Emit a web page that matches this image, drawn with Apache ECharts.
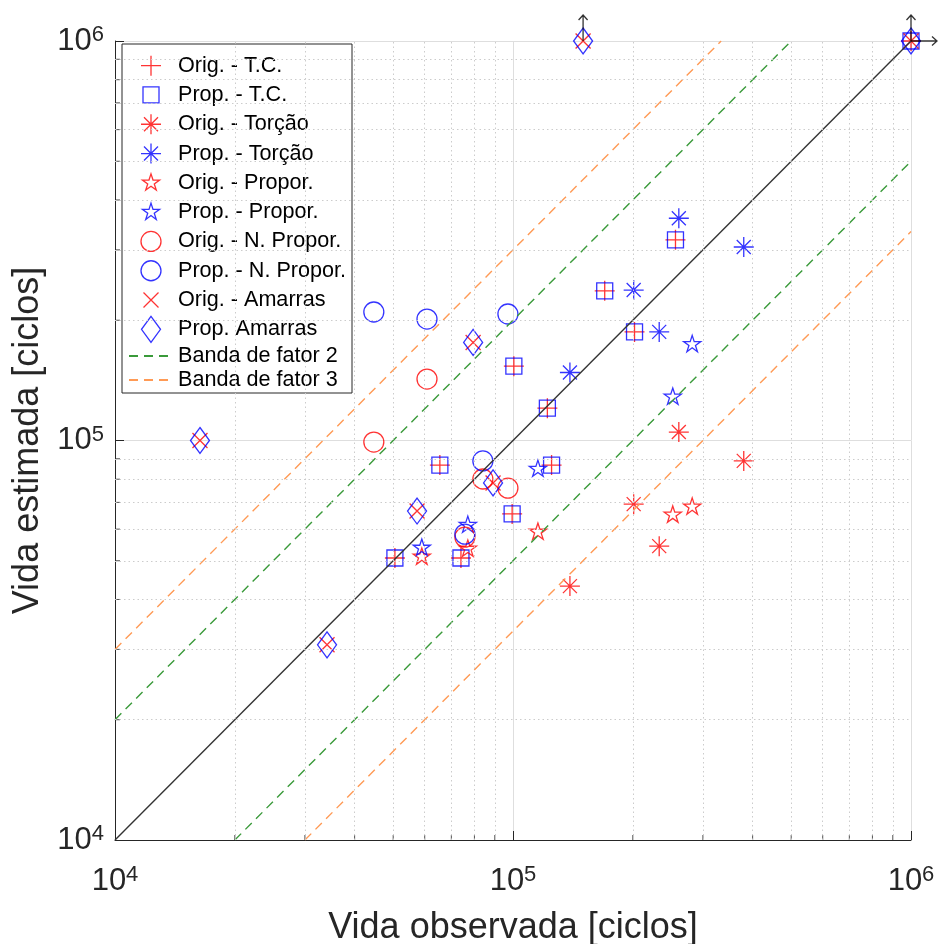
<!DOCTYPE html>
<html>
<head>
<meta charset="utf-8">
<script src="https://cdn.jsdelivr.net/npm/echarts@6/dist/echarts.min.js"></script>
<style>
  html, body { margin: 0; padding: 0; background: #ffffff; }
  #chart { width: 940px; height: 944px; }
</style>
</head>
<body>
<div id="chart"></div>
<script>
// Observed vs. estimated fatigue life [cycles], original and proposed models

// Tração-compressão (T.C.)
const tcObs      = [50500, 74000, 65500, 122000, 125000, 100500, 99500, 170000, 202000, 256000, 1000000];
const tcEstOrig  = [50800, 50800, 86800, 120500, 86800, 153500, 65500, 237000, 187000, 318000, 1000000];
const tcEstProp  = [50800, 50800, 86800, 120500, 86800, 153500, 65500, 237000, 187000, 318000, 1000000];

// Torção
const torObs     = [139000, 201000, 233000, 261000, 380000];
const torEstOrig = [43200, 69300, 54400, 105000, 88900];
const torEstProp = [148000, 238000, 187000, 360000, 305000];

// Proporcional
const propObs     = [59000, 77000, 115500, 252000, 282000];
const propEstOrig = [51100, 53500, 59000, 65100, 68200];
const propEstProp = [53800, 61400, 84800, 128500, 174000];

// Não proporcional
const npObs     = [44700, 60800, 97100, 84000, 75700];
const npEstOrig = [99100, 142500, 76000, 80100, 57300];
const npEstProp = [209700, 201400, 207300, 88900, 58300];

// Amarras
const amObs     = [16350, 34100, 57400, 79400, 89100, 150000, 1000000];
const amEstOrig = [100000, 30800, 66600, 176000, 78300, 1000000, 1000000];
const amEstProp = [100000, 30800, 66600, 176000, 78300, 1000000, 1000000];

// Run-outs: points whose life goes beyond the plotted range
const runoutUp    = [[150000, 1000000], [1000000, 1000000]];
const runoutRight = [[1000000, 1000000]];

// Axis range and minor grid multipliers
const axisMin = 1e4, axisMax = 1e6;
const minorMultipliers = [2, 3, 4, 5, 6, 7, 8, 9];
const minorDecades = [1e4, 1e5];

const FONT = "'Liberation Sans', Arial, Helvetica, sans-serif";
const TEXT = '#262626';
const RED = '#ff0000';
const BLUE = '#0000ff';
const GREEN = '#3a9a3a';
const ORANGE = '#ff9a55';

const zip = (xs, ys) => xs.map((x, i) => [x, ys[i]]);
const minorVals = [];
minorDecades.forEach(d => minorMultipliers.forEach(m => minorVals.push(m * d)));

// Marker outlines, drawn inside a common 28x28 frame (1 unit = 1 px at size 28)
const PAD = 'M-14,-14M14,14';
function starPath(R, r) {
  let d = '';
  for (let k = 0; k < 10; k++) {
    const a = -Math.PI / 2 + k * Math.PI / 5;
    const rad = k % 2 ? r : R;
    d += (k ? 'L' : 'M') + (rad * Math.cos(a)).toFixed(2) + ',' + (rad * Math.sin(a)).toFixed(2);
  }
  return d + 'Z';
}
const SYM = {
  plus:     'path://' + PAD + 'M0,-10L0,10M-10,0L10,0',
  square:   'path://' + PAD + 'M-8,-8L8,-8L8,8L-8,8Z',
  asterisk: 'path://' + PAD + 'M0,-10L0,10M-10,0L10,0M-7,-7L7,7M-7,7L7,-7',
  star:     'path://' + PAD + starPath(9, 3.44),
  circle:   'path://' + PAD + 'M10,0A10,10,0,1,1,-10,0A10,10,0,1,1,10,0Z',
  cross:    'path://' + PAD + 'M-7.5,-7.5L7.5,7.5M-7.5,7.5L7.5,-7.5',
  diamond:  'path://' + PAD + 'M0,-13L9.5,0L0,13L-9.5,0Z',
  tickLeft: 'path://' + PAD + 'M0,0L5,0',
  tickUp:   'path://' + PAD + 'M0,0L0,-5'
};
// arrows start at the symbol centre; 60x60 frame
const APAD = 'M-30,-30M30,30';
const ARROW_UP    = 'path://' + APAD + 'M0,0L0,-26M-4.5,-21L0,-26L4.5,-21';
const ARROW_RIGHT = 'path://' + APAD + 'M0,0L26,0M21,-4.5L26,0L21,4.5';

function markers(name, symbol, color, data) {
  return {
    name: name,
    type: 'scatter',
    data: data,
    symbol: symbol,
    symbolSize: 28,
    symbolKeepAspect: true,
    clip: false,
    silent: true,
    z: 3,
    itemStyle: { color: 'rgba(0,0,0,0)', borderColor: color, borderWidth: 1.3, opacity: 0.8 }
  };
}

function refLine(name, color, dash, data) {
  return {
    name: name,
    type: 'line',
    data: data,
    symbol: 'none',
    silent: true,
    z: 4,
    itemStyle: { color: 'rgba(0,0,0,0)', borderColor: 'rgba(0,0,0,0)', opacity: 0 },
    lineStyle: { color: color, width: 1.4, type: dash }
  };
}

function arrows(symbol, data) {
  return {
    name: 'runout', type: 'scatter', clip: false, silent: true, z: 5,
    symbol: symbol, symbolSize: 60, symbolKeepAspect: true,
    itemStyle: { color: 'rgba(0,0,0,0)', borderColor: '#000000', borderWidth: 1.3 },
    data: data
  };
}

const legendNames = [
  'Orig. - T.C.', 'Prop. - T.C.',
  'Orig. - Torção', 'Prop. - Torção',
  'Orig. - Propor.', 'Prop. - Propor.',
  'Orig. - N. Propor.', 'Prop. - N. Propor.',
  'Orig. - Amarras', 'Prop. Amarras',
  'Banda de fator 2', 'Banda de fator 3'
];

const series = [
  // minor ticks on the axes + dotted minor grid
  {
    name: 'ticks-y', type: 'scatter', silent: true, clip: false, z: 2,
    data: minorVals.map(v => [axisMin, v]),
    symbol: SYM.tickLeft, symbolSize: 28, symbolKeepAspect: true,
    itemStyle: { color: 'rgba(0,0,0,0)', borderColor: TEXT, borderWidth: 1 },
    markLine: {
      silent: true, symbol: 'none', label: { show: false },
      lineStyle: { color: '#cccccc', width: 1, type: [1.5, 3] },
      data: minorVals.map(v => ({ xAxis: v })).concat(minorVals.map(v => ({ yAxis: v })))
    }
  },
  {
    name: 'ticks-x', type: 'scatter', silent: true, clip: false, z: 2,
    data: minorVals.map(v => [v, axisMin]),
    symbol: SYM.tickUp, symbolSize: 28, symbolKeepAspect: true,
    itemStyle: { color: 'rgba(0,0,0,0)', borderColor: TEXT, borderWidth: 1 }
  },

  markers('Orig. - T.C.', SYM.plus, RED, zip(tcObs, tcEstOrig)),
  markers('Prop. - T.C.', SYM.square, BLUE, zip(tcObs, tcEstProp)),
  markers('Orig. - Torção', SYM.asterisk, RED, zip(torObs, torEstOrig)),
  markers('Prop. - Torção', SYM.asterisk, BLUE, zip(torObs, torEstProp)),
  markers('Orig. - Propor.', SYM.star, RED, zip(propObs, propEstOrig)),
  markers('Prop. - Propor.', SYM.star, BLUE, zip(propObs, propEstProp)),
  markers('Orig. - N. Propor.', SYM.circle, RED, zip(npObs, npEstOrig)),
  markers('Prop. - N. Propor.', SYM.circle, BLUE, zip(npObs, npEstProp)),
  markers('Orig. - Amarras', SYM.cross, RED, zip(amObs, amEstOrig)),
  markers('Prop. Amarras', SYM.diamond, BLUE, zip(amObs, amEstProp)),

  // 1:1 line and scatter bands (factor 2 and 3)
  refLine('1:1', '#333333', 'solid', [[axisMin, axisMin], [axisMax, axisMax]]),
  refLine('Banda de fator 2', GREEN, [9, 6], [[axisMin, 2 * axisMin], [axisMax / 2, axisMax]]),
  refLine('Banda de fator 2', GREEN, [9, 6], [[2 * axisMin, axisMin], [axisMax, axisMax / 2]]),
  refLine('Banda de fator 3', ORANGE, [9, 6], [[axisMin, 3 * axisMin], [axisMax / 3, axisMax]]),
  refLine('Banda de fator 3', ORANGE, [9, 6], [[3 * axisMin, axisMin], [axisMax, axisMax / 3]]),

  arrows(ARROW_UP, runoutUp),
  arrows(ARROW_RIGHT, runoutRight)
];

const powLabel = v => '{b|10}{e|' + Math.round(Math.log10(v)) + '}';
const labelRich = {
  b: { fontSize: 31, color: TEXT, fontFamily: FONT, lineHeight: 34 },
  e: { fontSize: 22, color: TEXT, fontFamily: FONT, verticalAlign: 'top', lineHeight: 22 }
};

function logAxis(name, isY) {
  return {
    type: 'log',
    logBase: 10,
    min: axisMin,
    max: axisMax,
    name: name,
    nameLocation: 'middle',
    nameGap: isY ? 66 : 70,
    nameRotate: isY ? 90 : 0,
    nameTextStyle: { fontSize: 36, color: TEXT, fontFamily: FONT },
    axisLine: { show: true, lineStyle: { color: TEXT, width: 1 } },
    axisTick: { show: true, inside: true, length: 9, lineStyle: { color: TEXT, width: 1 } },
    axisLabel: { show: true, margin: isY ? 11 : 24, formatter: powLabel, rich: labelRich },
    splitLine: { show: true, lineStyle: { color: '#dedede', width: 1 } },
    minorTick: { show: false },
    minorSplitLine: { show: false }
  };
}

const chart = echarts.init(document.getElementById('chart'), null, { renderer: 'canvas' });
chart.setOption({
  animation: false,
  backgroundColor: '#ffffff',
  textStyle: { fontFamily: FONT },
  grid: { left: 115, right: 29, top: 41, bottom: 104, containLabel: false, outerBoundsMode: 'none' },
  xAxis: logAxis('Vida observada [ciclos]', false),
  yAxis: logAxis('Vida estimada [ciclos]', true),
  legend: {
    data: legendNames,
    orient: 'vertical',
    left: 122,
    top: 44,
    itemWidth: 44,
    itemHeight: 28,
    itemGap: 0,
    padding: [7, 6, 1, 6],
    backgroundColor: '#ffffff',
    borderColor: TEXT,
    borderWidth: 1,
    selectedMode: false,
    itemStyle: { borderWidth: 1.3 },
    textStyle: { fontSize: 21.6, lineHeight: 24, color: '#000000', fontFamily: FONT }
  },
  series: series
});
</script>
</body>
</html>
